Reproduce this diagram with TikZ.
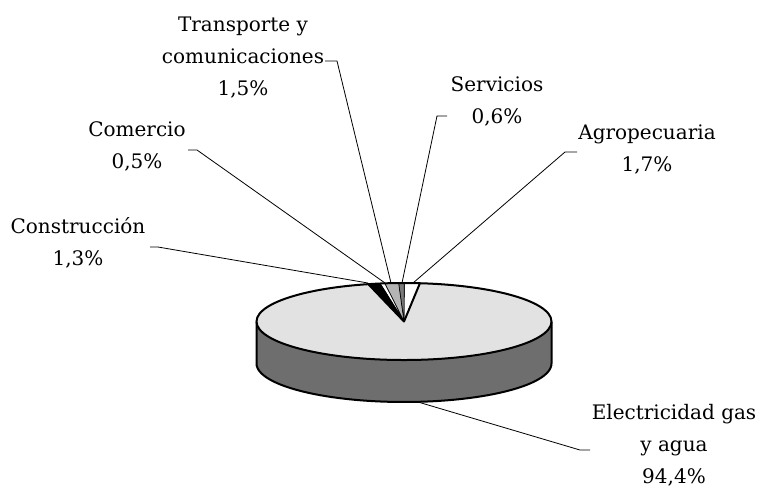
\documentclass[tikz,border=0pt]{standalone}
\usepackage{fontspec}
\setmainfont{DejaVu Serif}
\definecolor{pietop}{HTML}{E2E2E2}
\definecolor{pieside}{HTML}{6E6E6E}
\definecolor{slicegray}{HTML}{B4B4B4}
\definecolor{slicedark}{HTML}{7A7A7A}
\tikzset{
  lbl/.style={align=center, font=\fontsize{15}{24}\selectfont, inner sep=0pt},
  leader/.style={line width=0.6pt},
  rim/.style={line width=1.5pt, line join=round},
}
\begin{document}
\begin{tikzpicture}[x=0.75pt, y=-0.75pt]
\def\cx{404}
\def\cy{321.5}
\def\rx{147.5}
\def\ry{38.5}
\def\depth{42}
\useasboundingbox (0,0) rectangle (757,487);
% side of the pie
\fill[pieside] plot[domain=180:360, samples=60] ({\cx+\rx*cos(\x)},{\cy-\ry*sin(\x)})
  -- plot[domain=360:180, samples=60] ({\cx+\rx*cos(\x)},{\cy+\depth-\ry*sin(\x)}) -- cycle;
\draw[rim] ({\cx-\rx},\cy) -- ({\cx-\rx},{\cy+\depth})
  -- plot[domain=180:360, samples=60] ({\cx+\rx*cos(\x)},{\cy+\depth-\ry*sin(\x)})
  -- ({\cx+\rx},\cy);
% slices on top
\foreach \a/\b/\c in {83.8/89.9/white, 89.9/92.1/slicedark, 92.1/97.5/slicegray,
    97.5/99.3/white, 99.3/104/black, 104/443.8/pietop} {
  \filldraw[fill=\c, line width=0.5pt] (\cx,\cy)
    -- plot[domain=\a:\b, samples=60] ({\cx+\rx*cos(\x)},{\cy-\ry*sin(\x)}) -- cycle;
}
\draw[rim] (\cx,\cy) ellipse [x radius=\rx, y radius=\ry];
\coordinate (apex) at (\cx,\cy);
\coordinate (edge-l) at ({\cx+\rx*cos(104)},{\cy-\ry*sin(104)});
\coordinate (edge-r) at ({\cx+\rx*cos(83.8)},{\cy-\ry*sin(83.8)});
\draw[rim] (edge-l) -- (apex) -- (edge-r);
% labels
\node[lbl] (transp) at (243,58) {Transporte y\\comunicaciones\\1,5\%};
\node[lbl] (comer) at (137,146) {Comercio\\0,5\%};
\node[lbl] (constr) at (78,243) {Construcción\\1,3\%};
\node[lbl] (serv) at (497,101) {Servicios\\0,6\%};
\node[lbl] (agro) at (647,149) {Agropecuaria\\1,7\%};
\node[lbl] (elec) at (674,445) {Electricidad gas\\y agua\\94,4\%};
% leader lines
\coordinate (p-constr) at (368,283);
\coordinate (p-comer) at (385,283);
\coordinate (p-transp) at (391,283);
\coordinate (p-serv) at (402,283);
\coordinate (p-agro) at (413,283);
\coordinate (p-elec) at (418,402);
\coordinate (t-constr) at (158,247);
\coordinate (t-comer) at (197,150);
\coordinate (t-transp) at (337,61);
\coordinate (t-serv) at (437,116);
\coordinate (t-agro) at (565,152);
\coordinate (t-elec) at (580,450);
\draw[leader] (p-constr) -- (t-constr) -- ++(-8,0);
\draw[leader] (p-comer) -- (t-comer) -- ++(-9,0);
\draw[leader] (p-transp) -- (t-transp) -- ++(-12,0);
\draw[leader] (p-serv) -- (t-serv) -- ++(10,0);
\draw[leader] (p-agro) -- (t-agro) -- ++(12,0);
\draw[leader] (p-elec) -- (t-elec) -- ++(10,0);
\end{tikzpicture}
\end{document}
